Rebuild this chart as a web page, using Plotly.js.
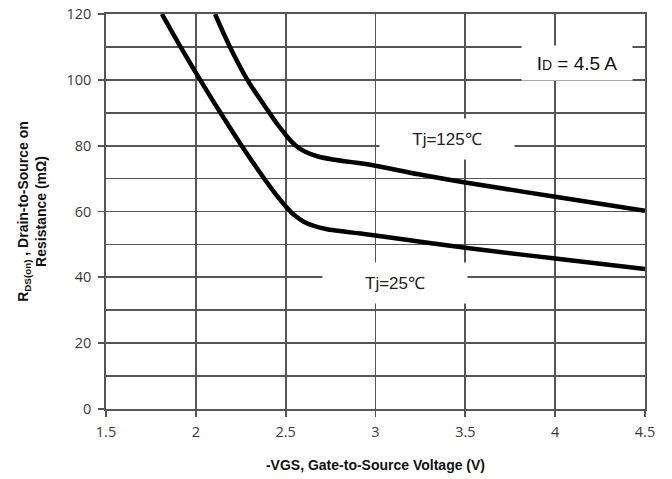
<!DOCTYPE html>
<html>
<head>
<meta charset="utf-8">
<script src="https://cdn.plot.ly/plotly-3.0.1.min.js"></script>
<style>html,body{margin:0;padding:0;background:#fff}#chart{width:672px;height:479px}</style>
</head>
<body>
<div id="chart"></div>
<script>
const vgs25 = [1.811, 1.915, 2.024, 2.137, 2.255, 2.383, 2.440, 2.500, 2.546, 2.601, 2.657, 2.731, 2.824, 2.917, 3.00, 3.24, 3.50, 4.00, 4.50];
const rds25 = [120, 110, 100, 90, 80, 69.8, 65.6, 61.6, 59.0, 56.9, 55.6, 54.6, 53.9, 53.3, 52.7, 50.9, 49.0, 45.7, 42.5];
const vgs125 = [2.107, 2.19, 2.287, 2.403, 2.45, 2.50, 2.55, 2.606, 2.68, 2.773, 2.866, 3.00, 3.24, 3.50, 4.00, 4.50];
const rds125 = [120, 110, 100, 90.5, 86.8, 83.3, 80.3, 78.2, 76.7, 75.7, 75.0, 73.9, 71.3, 68.8, 64.5, 60.2];
const xTicks = [1.5, 2, 2.5, 3, 3.5, 4, 4.5];
const xTickText = ['1.5', '2', '2.5', '3', '3.5', '4', '4.5'];
const yTicks = [0, 20, 40, 60, 80, 100, 120];

const lineStyle = {color: '#000', width: 4.5, shape: 'spline', smoothing: 1.0};
const traces = [
  {x: vgs25, y: rds25, mode: 'lines', line: lineStyle, name: 'Tj=25℃', hoverinfo: 'skip'},
  {x: vgs125, y: rds125, mode: 'lines', line: lineStyle, name: 'Tj=125℃', hoverinfo: 'skip'}
];

const gridColor = '#555555';
const gw = 1.8;
const tickFont = {family: 'Open Sans, Liberation Sans, sans-serif', size: 14.5, color: '#3a3a3a'};
const annFont = 'Liberation Sans, Arial, sans-serif';
const layout = {
  width: 672, height: 479,
  margin: {l: 106, r: 27, t: 14, b: 70},
  paper_bgcolor: '#fff', plot_bgcolor: '#fff',
  showlegend: false,
  xaxis: {
    range: [1.5, 4.5], tickvals: xTicks, ticktext: xTickText,
    showgrid: true, gridcolor: gridColor, gridwidth: gw,
    zeroline: false, showline: true, linecolor: gridColor, linewidth: gw, mirror: true,
    ticks: 'outside', ticklen: 6, tickcolor: gridColor, tickwidth: gw,
    ticklabelstandoff: 3,
    tickfont: tickFont,
    title: {text: '-VGS, Gate-to-Source Voltage (V)', font: {family: annFont, size: 14, color: '#111', weight: 'bold'}, standoff: 20}
  },
  yaxis: {
    range: [0, 120], tickvals: yTicks,
    showgrid: true, gridcolor: gridColor, gridwidth: gw,
    minor: {tickvals: [10, 30, 50, 70, 90, 110], showgrid: true, gridcolor: gridColor, gridwidth: gw, ticks: ''},
    zeroline: false, showline: true, linecolor: gridColor, linewidth: gw, mirror: true,
    ticks: 'outside', ticklen: 6, tickcolor: gridColor, tickwidth: gw,
    ticklabelstandoff: 4,
    tickfont: tickFont,
    title: {text: 'R<sub>DS(on)</sub> , Drain-to-Source on<br>Resistance (mΩ)', font: {family: annFont, size: 14, color: '#111', weight: 'bold'}, standoff: 16}
  },
  annotations: [
    {x: 4.12, y: 105, xref: 'x', yref: 'y', text: 'I<span style="font-size:14px">D</span> = 4.5 A', showarrow: false,
     font: {family: annFont, size: 19, color: '#111'},
     bgcolor: '#fff', width: 108, height: 32},
    {x: 3.4, y: 82, xref: 'x', yref: 'y', text: 'Tj=125℃', showarrow: false,
     font: {family: annFont, size: 17, color: '#222'},
     bgcolor: '#fff', width: 132, height: 38},
    {x: 3.11, y: 38.3, xref: 'x', yref: 'y', text: 'Tj=25℃', showarrow: false,
     font: {family: annFont, size: 17, color: '#222'},
     bgcolor: '#fff', width: 142, height: 38}
  ]
};
Plotly.newPlot('chart', traces, layout, {staticPlot: true, displayModeBar: false});
</script>
</body>
</html>
